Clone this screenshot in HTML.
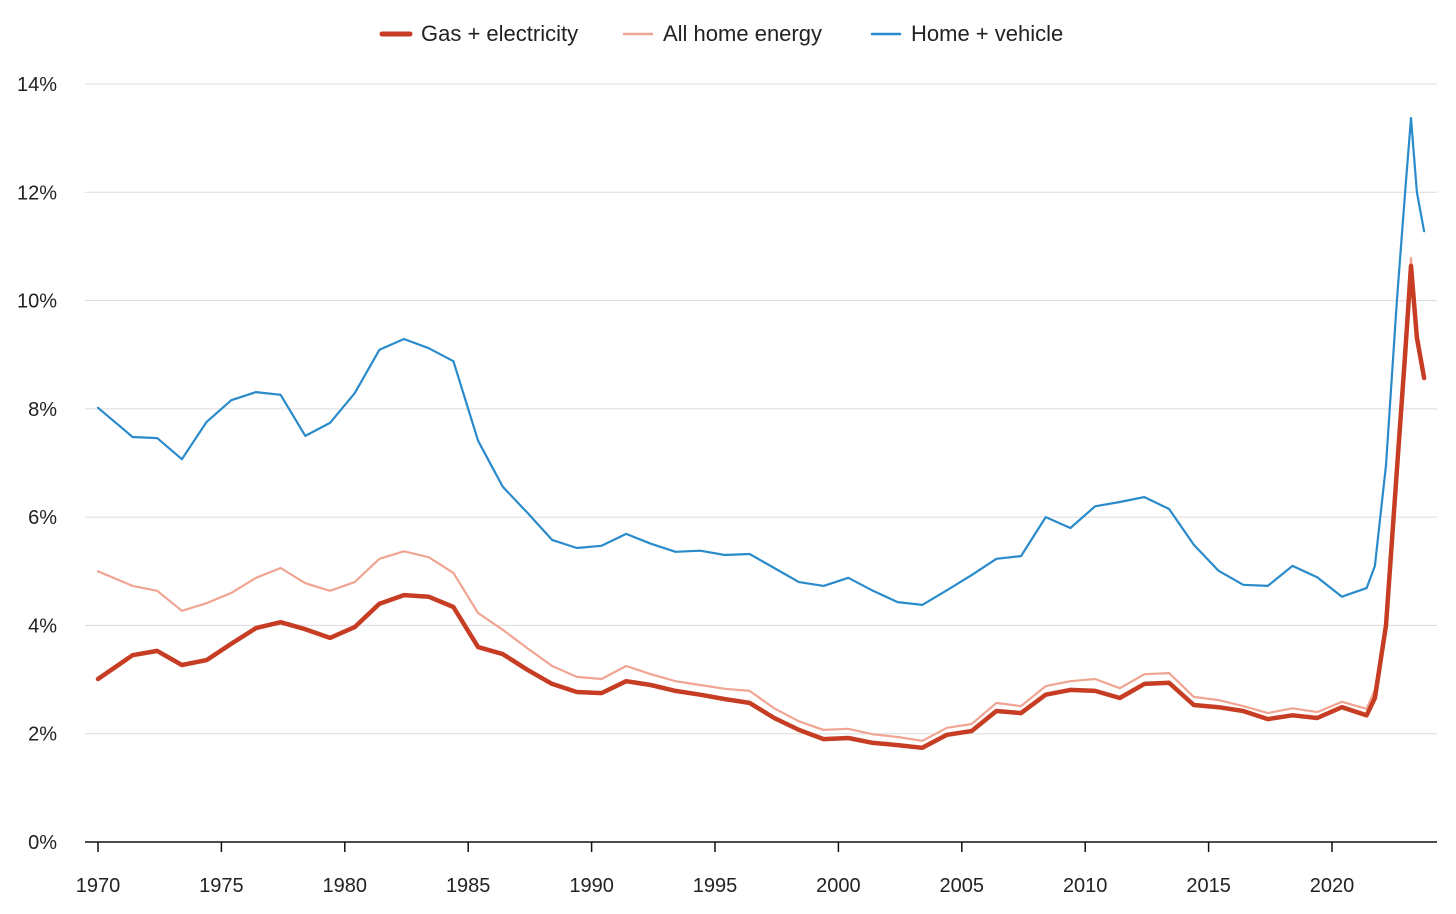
<!DOCTYPE html>
<html><head><meta charset="utf-8"><style>
body{margin:0;background:#fff;}
svg{display:block;font-family:"Liberation Sans","DejaVu Sans",sans-serif;}
</style></head><body>
<svg id="chart" width="1456" height="914"></svg>
<script>
const years=[1970,1971.4,1972.4,1973.4,1974.4,1975.4,1976.4,1977.4,1978.4,1979.4,1980.4,1981.4,1982.4,1983.4,1984.4,1985.4,1986.4,1987.4,1988.4,1989.4,1990.4,1991.4,1992.4,1993.4,1994.4,1995.4,1996.4,1997.4,1998.4,1999.4,2000.4,2001.4,2002.4,2003.4,2004.4,2005.4,2006.4,2007.4,2008.4,2009.4,2010.4,2011.4,2012.4,2013.4,2014.4,2015.4,2016.4,2017.4,2018.4,2019.4,2020.4,2021.4,2021.74,2022.19,2022.63,2022.96,2023.2,2023.44,2023.73];
const homeVehicle=[8.02,7.48,7.46,7.07,7.76,8.16,8.31,8.26,7.50,7.74,8.29,9.09,9.29,9.12,8.88,7.41,6.56,6.08,5.58,5.43,5.47,5.69,5.51,5.36,5.38,5.30,5.32,5.06,4.80,4.73,4.88,4.64,4.43,4.38,4.65,4.93,5.23,5.28,6.00,5.80,6.20,6.28,6.37,6.15,5.49,5.01,4.75,4.73,5.10,4.89,4.53,4.69,5.10,6.96,10.0,12.0,13.37,12.0,11.28];
const allHome=[5.0,4.73,4.64,4.27,4.41,4.6,4.88,5.06,4.78,4.64,4.8,5.23,5.37,5.26,4.97,4.23,3.92,3.58,3.25,3.05,3.01,3.25,3.1,2.97,2.9,2.83,2.79,2.47,2.23,2.07,2.09,1.99,1.94,1.87,2.11,2.18,2.57,2.51,2.88,2.97,3.01,2.84,3.1,3.12,2.68,2.62,2.51,2.38,2.47,2.4,2.59,2.46,2.81,4.1,7.05,9.1,10.79,9.46,8.68];
const gasElec=[3.01,3.45,3.53,3.27,3.36,3.66,3.95,4.06,3.93,3.77,3.97,4.40,4.56,4.53,4.34,3.60,3.47,3.18,2.92,2.77,2.75,2.97,2.90,2.79,2.72,2.64,2.57,2.29,2.07,1.90,1.92,1.83,1.79,1.74,1.98,2.05,2.42,2.38,2.72,2.81,2.79,2.66,2.92,2.94,2.53,2.49,2.42,2.27,2.34,2.29,2.49,2.34,2.66,4.0,6.87,9.0,10.64,9.31,8.57];
const yTicks=[0,2,4,6,8,10,12,14];
const xTicks=[1970,1975,1980,1985,1990,1995,2000,2005,2010,2015,2020];
const seriesNames=["Gas + electricity","All home energy","Home + vehicle"];

const NS="http://www.w3.org/2000/svg";
const svg=document.getElementById('chart');
const X=y=>98+(y-1970)*24.68;
const Y=v=>842-v*54.143;
function mk(t,a,p){const e=document.createElementNS(NS,t);for(const k in a)e.setAttribute(k,a[k]);(p||svg).appendChild(e);return e;}

yTicks.forEach(v=>{
  if(v>0){const g=mk('line',{x1:85,x2:1437,y1:Y(v),y2:Y(v),stroke:'#dcdcdc','stroke-width':1});
  
  }
  const t=mk('text',{x:57,y:Y(v)+7,'text-anchor':'end','font-size':20,fill:'#222'});
  t.textContent=v+'%';
  
  
});
const ax=mk('line',{x1:85,x2:1437,y1:842,y2:842,stroke:'#111','stroke-width':1.5});


xTicks.forEach(yr=>{
  const tk=mk('line',{x1:X(yr),x2:X(yr),y1:842,y2:852,stroke:'#111','stroke-width':1.5});
  
  
  const t=mk('text',{x:X(yr),y:892,'text-anchor':'middle','font-size':20,fill:'#222'});
  t.textContent=yr;
  
  
});
function line(vals,color,w,name){
  const d=vals.map((v,i)=>(i?'L':'M')+X(years[i]).toFixed(1)+','+Y(v).toFixed(1)).join('');
  const p=mk('path',{d:d,fill:'none',stroke:color,'stroke-width':w,'stroke-linejoin':'round','stroke-linecap':'round'});
  
  
}
line(homeVehicle,'#2a8bcb',2.2,'home-vehicle-line');
line(allHome,'#f0a592',2.2,'all-home-energy-line');
line(gasElec,'#c63d24',4.5,'gas-electricity-line');

const leg=[[382,421,'#c63d24',5],[624,663,'#f0a592',2.5],[872,911,'#2a8bcb',2.5]];
leg.forEach((l,i)=>{
  const s=mk('line',{x1:l[0],x2:l[0]+28,y1:34,y2:34,stroke:l[2],'stroke-width':l[3],'stroke-linecap':'round'});
  
  
  const t=mk('text',{x:l[1],y:41,'font-size':22,fill:'#222'});
  t.textContent=seriesNames[i];
  
  
});
</script>
</body></html>
